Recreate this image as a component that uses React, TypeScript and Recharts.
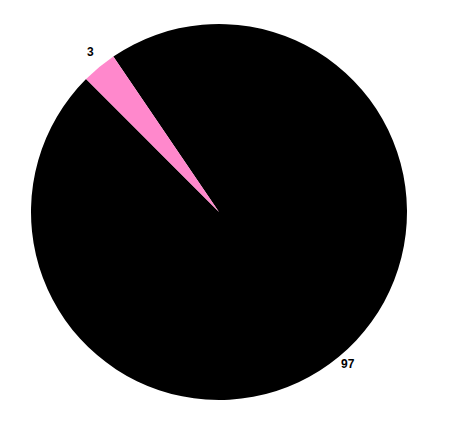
import { PieChart, Pie, Cell } from 'recharts';

const names = ['Other', 'Share'];
const values = [97, 3];
const colors = ['#000000', '#ff88cc'];

const data = names.map((name, i) => ({ name, value: values[i] }));

const RADIAN = Math.PI / 180;

const renderLabel = (props: any) => {
    const { cx, cy, midAngle, outerRadius, value } = props;
    const r = outerRadius + 14;
    const x = cx + r * Math.cos(-midAngle * RADIAN);
    const y = cy + r * Math.sin(-midAngle * RADIAN);
    return (
        <text
            x={x}
            y={y}
            textAnchor="middle"
            fill="#000"
            fontSize={12}
            fontWeight="bold"
            fontFamily="'Liberation Sans', Arial, sans-serif"
        >
            {value}
        </text>
    );
};

const App = () => {
    return (
        <div style={{ position: 'absolute', left: 0, top: 0, background: '#fff' }}>
            <PieChart width={458} height={429} margin={{ top: 0, right: 0, bottom: 0, left: 0 }}>
                <Pie
                    data={data}
                    dataKey="value"
                    nameKey="name"
                    cx={219}
                    cy={212}
                    outerRadius={188}
                    startAngle={135}
                    endAngle={495}
                    stroke="none"
                    label={renderLabel}
                    labelLine={false}
                    isAnimationActive={false}
                >
                    {data.map((d, i) => (
                        <Cell key={d.name} fill={colors[i]} />
                    ))}
                </Pie>
            </PieChart>
        </div>
    );
};

export default App;
